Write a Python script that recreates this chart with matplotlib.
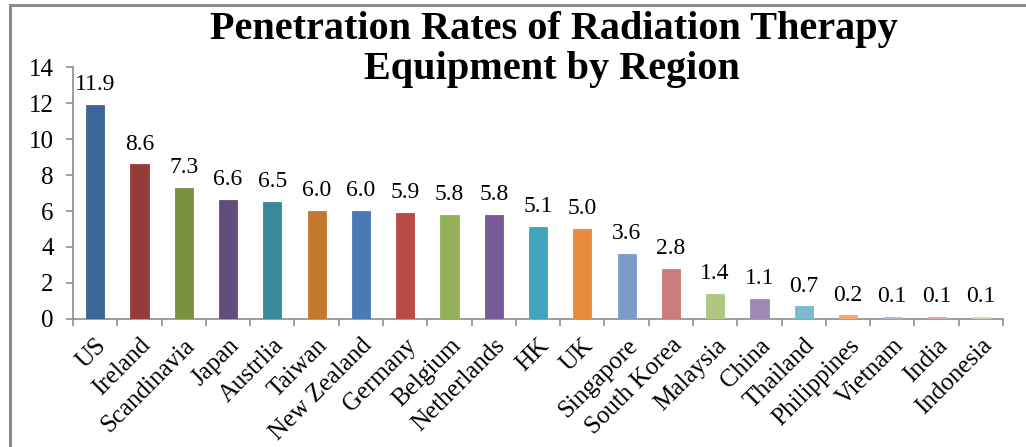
import numpy as np
import matplotlib
matplotlib.use("Agg")
import matplotlib.pyplot as plt
from matplotlib.patches import Rectangle

# data
regions = ["US", "Ireland", "Scandinavia", "Japan", "Austrlia", "Taiwan",
           "New Zealand", "Germany", "Belgium", "Netherlands", "HK", "UK",
           "Singapore", "South Korea", "Malaysia", "China", "Thailand",
           "Philippines", "Vietnam", "India", "Indonesia"]
rates = [11.9, 8.6, 7.3, 6.6, 6.5, 6.0, 6.0, 5.9, 5.8, 5.8, 5.1, 5.0,
         3.6, 2.8, 1.4, 1.1, 0.7, 0.2, 0.1, 0.1, 0.1]
colors = ["#3D6595", "#943C3A", "#7A9141", "#624D7C", "#378A9B", "#C4772F",
          "#4A7AB5", "#B84A47", "#93B156", "#775A98", "#43A2BC", "#E98B3F",
          "#7E9BC8", "#CB7B7A", "#AEC785", "#9E89B6", "#7BBAD1", "#F5A773",
          "#A9BCE0", "#E0A9A8", "#C8DCAE"]
yticks = [0, 2, 4, 6, 8, 10, 12, 14]
title_lines = ["Penetration Rates of Radiation Therapy", "Equipment by Region"]

plt.rcParams['font.family'] = ['Liberation Serif', 'DejaVu Serif']

fig = plt.figure(figsize=(10.26, 4.47), dpi=100)
ax = fig.add_axes([0.0712, 0.2864, 0.9064, 0.5636])

# outer chart frame (clipped at right and bottom like the reference)
frame = Rectangle((10 / 1026, -0.05), 1.2, 1.05 - 5 / 447,
                  transform=fig.transFigure, fill=False,
                  edgecolor="#8C8C8C", linewidth=2.2, clip_on=False)
fig.patches.append(frame)

x = np.arange(len(regions))
bars = ax.bar(x, rates, width=0.41, color=colors, zorder=3)
for b, c in zip(bars, colors):
    b.set_edgecolor(c)
    b.set_linewidth(0.6)

for xi, v in zip(x, rates):
    ax.annotate("%.1f" % v, (xi, v), xytext=(0, 7), textcoords="offset points",
                ha="center", va="bottom", fontsize=17)

ax.set_xlim(-0.5, len(regions) - 0.5)
ax.set_ylim(0, 14)
ax.set_yticks(yticks)
ax.set_yticklabels([str(t) for t in yticks], fontsize=18)

ax.set_xticks(x)
ax.set_xticklabels(regions, rotation=45, ha="right", va="top",
                   rotation_mode="anchor", fontsize=18)
ax.tick_params(axis="x", length=0, pad=11)
ax.set_xticks(np.arange(-0.5, len(regions)), minor=True)
ax.tick_params(axis="x", which="minor", length=5, color="#8C8C8C", width=1.2)
ax.tick_params(axis="y", length=5, color="#8C8C8C", width=1.2, pad=9)

for s in ["top", "right"]:
    ax.spines[s].set_visible(False)
for s in ["left", "bottom"]:
    ax.spines[s].set_color("#8C8C8C")
    ax.spines[s].set_linewidth(1.2)

# two-line title, each line placed on its own baseline
fig.text(0.54, 1 - 39 / 447, title_lines[0], ha="center", va="baseline",
         fontsize=29, fontweight="bold")
fig.text(0.538, 1 - 79 / 447, title_lines[1], ha="center", va="baseline",
         fontsize=29, fontweight="bold")

fig.savefig("out.png", dpi=100)
